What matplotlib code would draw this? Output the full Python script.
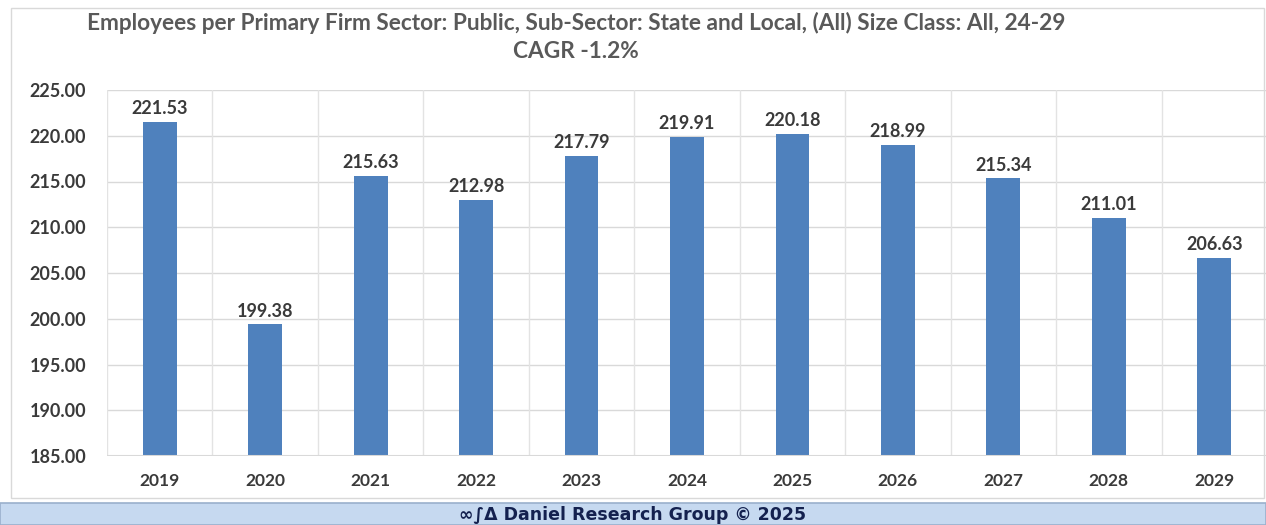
import matplotlib.pyplot as plt
from matplotlib.patches import Rectangle

years = ['2019', '2020', '2021', '2022', '2023', '2024', '2025', '2026', '2027', '2028', '2029']
employees = [221.53, 199.38, 215.63, 212.98, 217.79, 219.91, 220.18, 218.99, 215.34, 211.01, 206.63]
yticks = [185, 190, 195, 200, 205, 210, 215, 220, 225]

title = 'Employees per Primary Firm Sector: Public, Sub-Sector: State and Local, (All) Size Class: All, 24-29\nCAGR -1.2%'
footer = '\u221e\u222b\u0394 Daniel Research Group \u00a9 2025'

plt.rcParams['font.family'] = ['Lato', 'DejaVu Sans']
text_col = '#3a3a3a'

W, H = 1266, 525
fig = plt.figure(figsize=(W / 100, H / 100), dpi=100)
ax = fig.add_axes([107 / W, 1 - 456 / H, (1267 - 107) / W, (456 - 90) / H])

x = range(len(years))
ax.bar(x, employees, width=0.32, color='#4f81bd', zorder=3)
ax.set_ylim(185, 225)
ax.set_xlim(-0.5, len(years) - 0.5)
ax.set_yticks(yticks)
ax.set_yticklabels([f'{v:.2f}' for v in yticks], fontsize=13, fontweight='bold', color=text_col)
ax.set_xticks(list(x))
ax.set_xticklabels(years, fontsize=12.5, fontweight='bold', color=text_col)
ax.tick_params(axis='y', length=0, pad=15)
ax.tick_params(axis='x', length=0, pad=12)

# gridlines, including separators between categories
for v in yticks:
    ax.axhline(v, color='#d9d9d9', lw=1, zorder=1)
for i in range(len(years) + 1):
    ax.axvline(i - 0.5, color='#e3e3e3', lw=1, zorder=1)
for s in ax.spines.values():
    s.set_visible(False)
ax.axhline(185, color='#d9d9d9', lw=1.5, zorder=4)

for xi, v in zip(x, employees):
    ax.annotate(f'{v:.2f}', (xi, v), xytext=(0, 3.5), textcoords='offset points',
                ha='center', va='bottom', fontsize=13, fontweight='bold', color=text_col, zorder=5)

fig.text(576 / W, 1 - 37 / H, title, ha='center', va='center', fontsize=16.3, fontweight='bold',
         color='#595959', linespacing=1.45)

# outer border of chart
fig.patches.append(Rectangle((11 / W, 1 - 498 / H), 1253 / W, 490 / H,
                             transform=fig.transFigure, fill=False, ec='#d9d9d9', lw=1))
# footer band
fig.patches.append(Rectangle((0, 0), 1, 22 / H, transform=fig.transFigure,
                             fc='#c6d9f0', ec='#9ab0cc', lw=1.2))
fig.text(0.5, 10 / H, footer, ha='center', va='center', fontsize=12.5, fontweight='bold',
         color='#14214f', family=['Liberation Sans Narrow', 'DejaVu Sans'])

fig.savefig('out.png', dpi=100)
